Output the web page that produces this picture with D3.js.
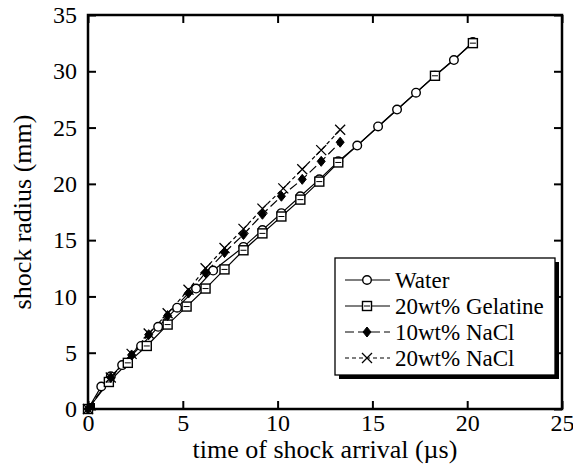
<!DOCTYPE html>
<html>
<head>
<meta charset="utf-8">
<script src="https://cdn.jsdelivr.net/npm/d3@7"></script>
<style>
  body { margin: 0; background: #fff; }
</style>
</head>
<body>
<div id="chart"></div>
<script>
// data (time in µs, radius in mm)
var waterT = [0, 0.7, 1.2, 1.8, 2.8, 3.7, 4.7, 5.7, 6.6, 8.2, 9.2, 10.2, 11.2, 12.2, 13.2, 14.2, 15.3, 16.3, 17.3, 18.3, 19.3, 20.3];
var waterR = [0, 2.0, 2.9, 3.9, 5.6, 7.3, 9.0, 10.7, 12.3, 14.4, 15.9, 17.4, 18.9, 20.4, 22.0, 23.4, 25.1, 26.6, 28.1, 29.6, 31.0, 32.6];

var gelT = [0, 1.1, 2.1, 3.1, 4.2, 5.2, 6.2, 7.2, 8.2, 9.2, 10.2, 11.2, 12.2, 13.2, 18.3, 20.3];
var gelR = [0, 2.4, 4.1, 5.6, 7.5, 9.1, 10.7, 12.4, 14.1, 15.6, 17.1, 18.6, 20.2, 21.9, 29.6, 32.5];

var nacl10T = [0, 1.2, 2.3, 3.2, 4.2, 5.3, 6.2, 7.2, 8.2, 9.2, 10.2, 11.3, 12.3, 13.3];
var nacl10R = [0, 2.8, 4.8, 6.6, 8.3, 10.3, 12.1, 13.9, 15.5, 17.3, 18.9, 20.4, 22.0, 23.7];

var nacl20T = [0, 1.2, 2.3, 3.2, 4.2, 5.3, 6.2, 7.2, 8.2, 9.2, 10.3, 11.3, 12.3, 13.3];
var nacl20R = [0, 2.8, 4.9, 6.7, 8.5, 10.6, 12.5, 14.3, 16.0, 17.8, 19.6, 21.3, 23.0, 24.8];

var seriesNames = ["Water", "20wt% Gelatine", "10wt% NaCl", "20wt% NaCl"];
var xTicks = [0, 5, 10, 15, 20, 25];
var yTicks = [0, 5, 10, 15, 20, 25, 30, 35];

var W = 573, H = 473;
var plotL = 88, plotR = 562, plotT = 15, plotB = 409;
var serif = "'Liberation Serif'";

var svg = d3.select("#chart").append("svg")
    .attr("width", W)
    .attr("height", H);

var x = d3.scaleLinear().domain([0, 25]).range([plotL, plotR]);
var y = d3.scaleLinear().domain([0, 35]).range([plotB, plotT]);

function zip(ts, rs) {
  return ts.map(function(t, i) { return {t: t, r: rs[i]}; });
}

var series = [
  {name: seriesNames[0], data: zip(waterT, waterR), dash: null, mark: "circle"},
  {name: seriesNames[1], data: zip(gelT, gelR), dash: null, mark: "square"},
  {name: seriesNames[2], data: zip(nacl10T, nacl10R), dash: "9,4", mark: "diamond"},
  {name: seriesNames[3], data: zip(nacl20T, nacl20R), dash: "4,3", mark: "cross"}
];

// axes: ticks point inward on all four sides
var tickLen = 8;
var gx = svg.append("g")
  .attr("transform", "translate(0," + plotB + ")")
  .call(d3.axisBottom(x).tickValues(xTicks).tickSizeInner(-tickLen).tickSizeOuter(0).tickPadding(5));
var gxt = svg.append("g")
  .attr("transform", "translate(0," + plotT + ")")
  .call(d3.axisTop(x).tickValues(xTicks).tickSizeInner(-tickLen).tickSizeOuter(0).tickFormat(""));
var gy = svg.append("g")
  .attr("transform", "translate(" + plotL + ",0)")
  .call(d3.axisLeft(y).tickValues(yTicks).tickSizeInner(-tickLen).tickSizeOuter(0).tickPadding(11));
var gyr = svg.append("g")
  .attr("transform", "translate(" + plotR + ",0)")
  .call(d3.axisRight(y).tickValues(yTicks).tickSizeInner(-tickLen).tickSizeOuter(0).tickFormat(""));

[gx, gxt, gy, gyr].forEach(function(g) {
  g.select(".domain").remove();
  g.selectAll(".tick line").attr("stroke", "#000").attr("stroke-width", 2);
  g.selectAll(".tick text")
    .attr("font-size", "24px")
    .attr("fill", "#000")
    .style("font-family", serif);
});

// frame
svg.append("rect")
  .attr("x", plotL).attr("y", plotT)
  .attr("width", plotR - plotL).attr("height", plotB - plotT)
  .attr("fill", "none").attr("stroke", "#000").attr("stroke-width", 2.5);

// axis titles
svg.append("text")
  .attr("x", (plotL + plotR) / 2).attr("y", 458)
  .attr("text-anchor", "middle").attr("font-size", "26px")
  .style("font-family", serif)
  .text("time of shock arrival (\u00b5s)");

svg.append("text")
  .attr("transform", "translate(31," + ((plotT + plotB) / 2) + ") rotate(-90)")
  .attr("text-anchor", "middle").attr("font-size", "26px")
  .style("font-family", serif)
  .text("shock radius (mm)");

// markers
function drawMark(g, kind, cx, cy) {
  if (kind === "circle") {
    g.append("circle").attr("cx", cx).attr("cy", cy).attr("r", 4.3)
      .attr("fill", "#fff").attr("stroke", "#000").attr("stroke-width", 1.4);
  } else if (kind === "square") {
    g.append("rect").attr("x", cx - 4.5).attr("y", cy - 4.5).attr("width", 9).attr("height", 9)
      .attr("fill", "#fff").attr("stroke", "#000").attr("stroke-width", 1.4);
    g.append("line").attr("x1", cx - 3).attr("x2", cx + 3).attr("y1", cy).attr("y2", cy)
      .attr("stroke", "#000").attr("stroke-width", 1);
  } else if (kind === "diamond") {
    var s = 5;
    g.append("path")
      .attr("d", "M" + cx + "," + (cy - s) + "L" + (cx + s * 0.8) + "," + cy + "L" + cx + "," + (cy + s) + "L" + (cx - s * 0.8) + "," + cy + "Z")
      .attr("fill", "#000").attr("stroke", "#000").attr("stroke-width", 1);
  } else if (kind === "cross") {
    var c = 5;
    g.append("path")
      .attr("d", "M" + (cx - c) + "," + (cy - c) + "L" + (cx + c) + "," + (cy + c) + "M" + (cx + c) + "," + (cy - c) + "L" + (cx - c) + "," + (cy + c))
      .attr("fill", "none").attr("stroke", "#000").attr("stroke-width", 1.3);
  }
}

var line = d3.line()
  .x(function(d) { return x(d.t); })
  .y(function(d) { return y(d.r); });

// draw lines first, then markers (water first so squares lie over circles)
series.forEach(function(s) {
  svg.append("path")
    .datum(s.data)
    .attr("d", line)
    .attr("fill", "none")
    .attr("stroke", "#000")
    .attr("stroke-width", 1.2)
    .attr("stroke-dasharray", s.dash);
});

series.forEach(function(s) {
  var g = svg.append("g");
  s.data.forEach(function(d) {
    drawMark(g, s.mark, x(d.t), y(d.r));
  });
});

// black blob at the shared origin
svg.append("rect")
  .attr("x", x(0) - 1).attr("y", y(0) - 6)
  .attr("width", 8).attr("height", 7)
  .attr("fill", "#000");

// legend with drop shadow
var lgX = 335, lgY = 258, lgW = 220, lgH = 117;
svg.append("rect")
  .attr("x", lgX + 4).attr("y", lgY + 4)
  .attr("width", lgW).attr("height", lgH)
  .attr("fill", "#000");
svg.append("rect")
  .attr("x", lgX).attr("y", lgY)
  .attr("width", lgW).attr("height", lgH)
  .attr("fill", "#fff").attr("stroke", "#000").attr("stroke-width", 1.3);

series.forEach(function(s, i) {
  var ry = 280 + i * 26;
  var g = svg.append("g");
  g.append("line")
    .attr("x1", 345).attr("x2", 390)
    .attr("y1", ry).attr("y2", ry)
    .attr("stroke", "#000").attr("stroke-width", 1.2)
    .attr("stroke-dasharray", s.dash);
  drawMark(g, s.mark, 367, ry);
  g.append("text")
    .attr("x", 395).attr("y", ry)
    .attr("dy", "0.35em")
    .attr("font-size", "23px")
    .attr("fill", "#000")
    .style("font-family", serif)
    .text(s.name);
});
</script>
</body>
</html>
